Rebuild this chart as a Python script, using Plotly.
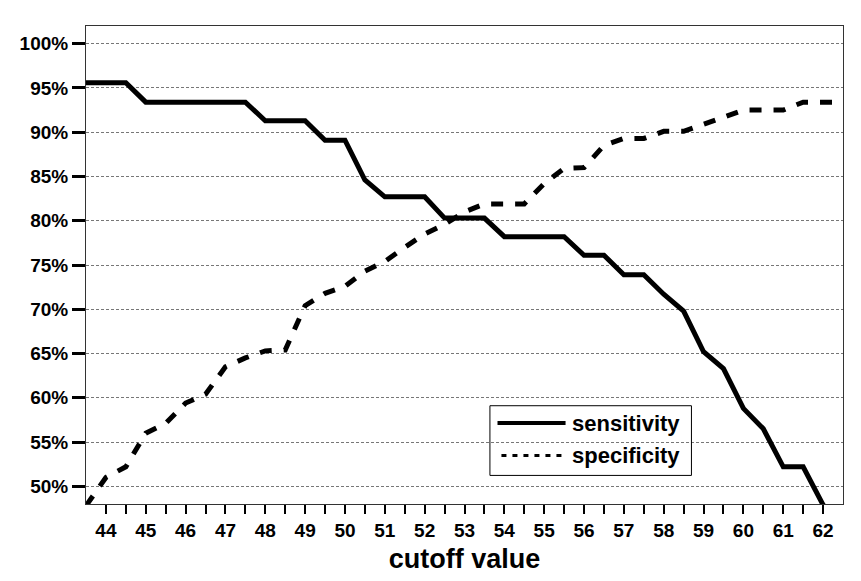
import plotly.graph_objects as go

# ---- data (percent) ----
cutoffs = [43.5, 44, 44.5, 45, 45.5, 46, 46.5, 47, 47.5, 48, 48.5, 49, 49.5, 50,
           50.5, 51, 51.5, 52, 52.5, 53, 53.5, 54, 54.5, 55, 55.5, 56, 56.5, 57,
           57.5, 58, 58.5, 59, 59.5, 60, 60.5, 61, 61.5, 62, 62.5]
sensitivity = [95.6, 95.6, 95.6, 93.4, 93.4, 93.4, 93.4, 93.4, 93.4, 91.3, 91.3, 91.3, 89.1, 89.1,
               84.6, 82.7, 82.7, 82.7, 80.3, 80.3, 80.3, 78.2, 78.2, 78.2, 78.2, 76.1, 76.1, 73.9,
               73.9, 71.7, 69.8, 65.2, 63.3, 58.8, 56.5, 52.2, 52.2, 47.9, 45.0]
specificity = [47.8, 51.0, 52.2, 56.0, 57.1, 59.4, 60.4, 63.5, 64.5, 65.3, 65.4, 70.4, 71.8, 72.6,
               74.3, 75.4, 77.0, 78.5, 79.6, 81.0, 81.9, 81.9, 81.9, 84.2, 85.9, 86.0, 88.5, 89.3,
               89.3, 90.1, 90.1, 90.9, 91.7, 92.5, 92.5, 92.5, 93.4, 93.4, 93.4]

x_tickvals = [44 + 0.5 * i for i in range(37)]
x_ticktext = [str(int(v)) if v == int(v) else "" for v in x_tickvals]
y_tickvals = [50, 55, 60, 65, 70, 75, 80, 85, 90, 95, 100]
y_ticktext = ["50%", "55%", "60%", "65%", "70%", "75%", "80%", "85%", "90%", "95%", "100%"]
series_names = ["sensitivity", "specificity"]

FONT = "Arial, Liberation Sans, sans-serif"

fig = go.Figure()
fig.add_trace(go.Scatter(x=cutoffs, y=sensitivity, mode="lines", name=series_names[0],
                         line=dict(color="black", width=5), showlegend=False))
fig.add_trace(go.Scatter(x=cutoffs, y=specificity, mode="lines", name=series_names[1],
                         line=dict(color="black", width=5, dash="12px,12px"), showlegend=False))

# manual legend (transparent box, samples, labels)
fig.add_shape(type="rect", xref="paper", yref="paper", x0=0.5336, x1=0.7998, y0=0.0598, y1=0.2056,
              line=dict(color="black", width=1), fillcolor="rgba(0,0,0,0)", layer="above")
fig.add_shape(type="line", xref="paper", yref="paper", x0=0.5436, x1=0.6335, y0=0.1694, y1=0.1694,
              line=dict(color="black", width=4), layer="above")
fig.add_shape(type="line", xref="paper", yref="paper", x0=0.5488, x1=0.6335, y0=0.1015, y1=0.1015,
              line=dict(color="black", width=3, dash="5px,6px"), layer="above")
for name, yy in zip(series_names, [0.1680, 0.1020]):
    fig.add_annotation(xref="paper", yref="paper", x=0.6391, y=yy, text=name, showarrow=False,
                       xanchor="left", yanchor="middle",
                       font=dict(family=FONT, size=22, color="black", weight="bold"))

fig.update_layout(
    width=853, height=573,
    margin=dict(l=67, r=18, t=18, b=75),
    paper_bgcolor="white", plot_bgcolor="white",
    font=dict(family=FONT, color="black"),
)
fig.update_xaxes(
    range=[43.5, 62.5], tickmode="array", tickvals=x_tickvals, ticktext=x_ticktext,
    ticks="outside", ticklen=9, tickwidth=2, tickcolor="black",
    tickfont=dict(family=FONT, size=19, color="black", weight="bold"),
    showgrid=False, zeroline=False,
    showline=True, linecolor="#333333", linewidth=1, mirror=True,
    title=dict(text="cutoff value", font=dict(family=FONT, size=27, color="black", weight="bold"),
               standoff=9),
)
fig.update_yaxes(
    range=[48, 102], tickmode="array", tickvals=y_tickvals, ticktext=y_ticktext,
    ticks="outside", ticklen=13, tickwidth=2.5, tickcolor="black",
    tickfont=dict(family=FONT, size=19, color="black", weight="bold"),
    showgrid=True, gridcolor="#777777", gridwidth=1, griddash="3px,2px",
    zeroline=False,
    showline=True, linecolor="#333333", linewidth=1, mirror=True,
)

fig.write_html("out.html")
